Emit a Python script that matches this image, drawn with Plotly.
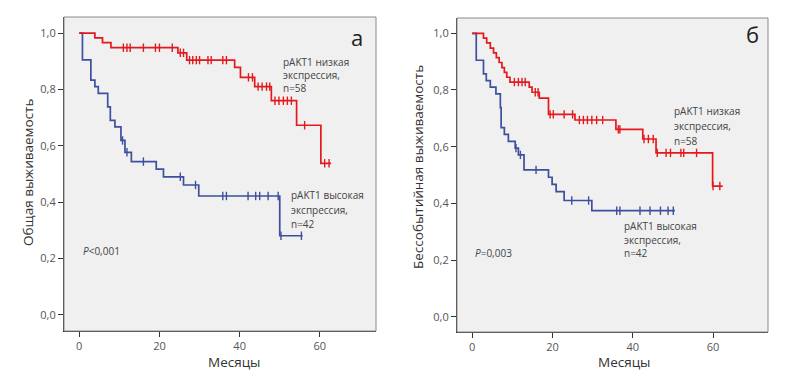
import plotly.graph_objects as go

W, H = 787, 380

# ---------------- data ----------------
# Panel а: overall survival
os_low_times = [0, 3.9, 5.8, 7.9, 24.6, 26.8, 38.75, 40.2, 43.75, 47.9, 54.2, 60.25]
os_low_surv = [1.0, 0.983, 0.966, 0.948, 0.930, 0.904, 0.878, 0.843, 0.810, 0.760, 0.673, 0.538]
os_low_end = 62.8
os_low_censored = [11.0, 11.9, 12.7, 16.0, 19.0, 20.0, 23.2, 25.2, 26.0, 27.5, 28.3, 29.2, 30.0,
                   32.1, 32.9, 35.8, 36.7, 42.2, 43.2, 44.6, 45.6, 46.7, 47.5, 48.8, 49.8,
                   50.9, 51.9, 52.9, 56.2, 61.2, 62.3]

os_high_times = [0, 0.8, 2.9, 3.9, 4.75, 7.1, 7.75, 8.9, 10.4, 11.4, 13.0, 19.2, 21.0, 26.0, 29.8, 50.0]
os_high_surv = [1.0, 0.905, 0.833, 0.810, 0.786, 0.738, 0.690, 0.667, 0.619, 0.577, 0.544,
                0.517, 0.490, 0.461, 0.422, 0.281]
os_high_end = 55.7
os_high_censored = [10.8, 11.9, 16.0, 25.2, 29.0, 35.8, 36.7, 42.1, 44.0, 45.0, 47.1, 49.6, 50.3, 55.4]

# Panel б: event-free survival
efs_low_times = [0, 2.8, 3.6, 4.5, 5.3, 6.0, 6.7, 7.4, 8.0, 8.6, 9.4, 14.2, 14.9, 16.7, 19.0,
                 25.6, 35.8, 42.5, 45.8, 59.9]
efs_low_surv = [1.0, 0.983, 0.966, 0.948, 0.931, 0.914, 0.897, 0.879, 0.862, 0.845, 0.828,
                0.810, 0.792, 0.771, 0.714, 0.694, 0.661, 0.627, 0.578, 0.461]
efs_low_end = 62.4
efs_low_censored = [10.5, 11.5, 12.4, 13.2, 15.7, 16.4, 19.4, 20.2, 22.9, 25.0, 26.7, 27.7, 28.7,
                    29.8, 31.0, 32.5, 36.4, 36.8, 42.8, 43.9, 45.1, 46.1, 48.3, 49.4, 52.0,
                    52.7, 55.9, 60.0, 61.7]

efs_high_times = [0, 1.0, 2.8, 3.5, 4.5, 5.9, 7.0, 7.2, 8.0, 9.0, 10.7, 11.5, 12.9, 19.0, 19.9,
                  20.9, 22.9, 29.8]
efs_high_surv = [1.0, 0.905, 0.857, 0.833, 0.810, 0.786, 0.738, 0.667, 0.643, 0.619, 0.595,
                 0.571, 0.518, 0.492, 0.467, 0.441, 0.410, 0.374]
efs_high_end = 50.5
efs_high_censored = [10.9, 12.0, 15.9, 24.8, 29.0, 36.0, 36.8, 41.8, 44.3, 46.9, 48.8, 50.1]

x_ticks = [0, 20, 40, 60]
y_ticks = [0.0, 0.2, 0.4, 0.6, 0.8, 1.0]

RED = "#e3191d"
BLUE = "#3d4f9e"
FONT = "Open Sans"


def step_value(times, surv, t):
    v = surv[0]
    for ti, si in zip(times, surv):
        if ti <= t:
            v = si
    return v


fig = go.Figure()


def add_curve(xa, ya, times, surv, end, cens, color):
    fig.add_trace(go.Scatter(
        x=times + [end], y=surv + [surv[-1]], mode="lines",
        line=dict(color=color, width=1.7, shape="hv"),
        xaxis=xa, yaxis=ya, showlegend=False, hoverinfo="skip"))
    fig.add_trace(go.Scatter(
        x=cens, y=[step_value(times, surv, c) for c in cens], mode="markers",
        marker=dict(symbol="line-ns", size=6, line=dict(color=color, width=1.4)),
        xaxis=xa, yaxis=ya, showlegend=False, hoverinfo="skip"))


add_curve("x", "y", os_high_times, os_high_surv, os_high_end, os_high_censored, BLUE)
add_curve("x", "y", os_low_times, os_low_surv, os_low_end, os_low_censored, RED)
add_curve("x2", "y2", efs_high_times, efs_high_surv, efs_high_end, efs_high_censored, BLUE)
add_curve("x2", "y2", efs_low_times, efs_low_surv, efs_low_end, efs_low_censored, RED)


def px_x(p):
    return p / W


def px_y(p):
    return 1 - p / H


axis_common = dict(showgrid=False, zeroline=False, showline=True, linecolor="#333333",
                   linewidth=1.2, ticks="outside", ticklen=5, tickwidth=1.2,
                   tickcolor="#333333", tickfont=dict(family=FONT, size=11, color="#555555"))

fig.update_layout(
    width=W, height=H, margin=dict(l=0, r=0, t=0, b=0),
    paper_bgcolor="white", plot_bgcolor="#f0f0f0", separators=", ",
    font=dict(family=FONT, color="#333333"),
    xaxis=dict(domain=[px_x(64), px_x(376)], range=[-3.8, 74], tickvals=x_ticks,
               anchor="y", **axis_common),
    yaxis=dict(domain=[px_y(331), px_y(17)], range=[-0.057, 1.057], tickvals=y_ticks,
               tickformat=".1f", anchor="x", **axis_common),
    xaxis2=dict(domain=[px_x(457), px_x(768)], range=[-3.8, 73.7], tickvals=x_ticks,
                anchor="y2", **axis_common),
    yaxis2=dict(domain=[px_y(332), px_y(18)], range=[-0.054, 1.054], tickvals=y_ticks,
                tickformat=".1f", anchor="x2", **axis_common),
)

for xr, yr in (("x", "y"), ("x2", "y2")):
    fig.add_shape(type="rect", xref=f"{xr} domain", yref=f"{yr} domain", x0=0, x1=1, y0=0, y1=1,
                  line=dict(color="#8a8a8a", width=1), layer="above")


def note(text, x, y, size=10, xanchor="left", angle=0, color="#444444"):
    fig.add_annotation(text=text, x=px_x(x), y=px_y(y), xref="paper", yref="paper",
                       xanchor=xanchor, yanchor="middle", showarrow=False, textangle=angle,
                       font=dict(family=FONT, size=size, color=color))


note("а", 357, 37, size=22, xanchor="center", color="#222222")
note("б", 752, 34, size=22, xanchor="center", color="#222222")

for txt, yy in (("pAKT1 низкая", 62), ("экспрессия,", 75), ("n=58", 88)):
    note(txt, 281, yy)
for txt, yy in (("pAKT1 высокая", 195), ("экспрессия,", 210), ("n=42", 224)):
    note(txt, 289, yy)
for txt, yy in (("pAKT1 низкая", 111), ("экспрессия,", 126), ("n=58", 141)):
    note(txt, 672, yy)
for txt, yy in (("pAKT1 высокая", 226), ("экспрессия,", 239.5), ("n=42", 253)):
    note(txt, 622, yy)

note("<i>P</i>&lt;0,001", 81, 251)
note("<i>P</i>=0,003", 473, 253)

note("Месяцы", 234, 362, size=13.5, xanchor="center", color="#333333")
note("Месяцы", 624, 362, size=13.5, xanchor="center", color="#333333")
note("Общая выживаемость", 28, 173, size=13.5, xanchor="center", angle=-90, color="#333333")
note("Бессобытийная выживаемость", 418, 167, size=13.5, xanchor="center", angle=-90, color="#333333")

fig.write_html("out.html", config={"displayModeBar": False},
               post_script="document.body.style.margin='0px';")
